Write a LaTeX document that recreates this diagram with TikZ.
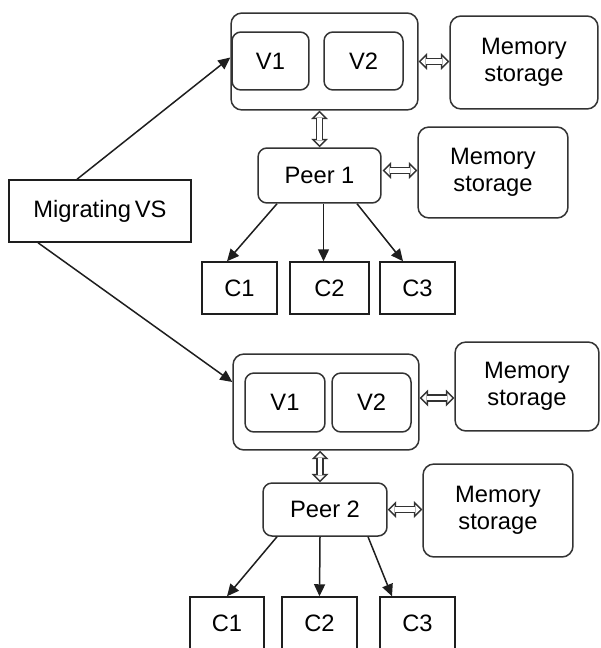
\documentclass[tikz,border=0pt]{standalone}
\usepackage{fontspec}
\setmainfont{Liberation Sans}
\usetikzlibrary{arrows.meta,calc}
\definecolor{edge}{HTML}{1E1E1E}
\definecolor{boxline}{HTML}{333333}

\begin{document}
\begin{tikzpicture}[x=0.02cm,y=-0.02cm,font=\fontsize{13.5}{15.5}\selectfont,
    plain/.style={draw=edge,line width=0.03cm,inner sep=0pt,align=center},
    rbox/.style={plain,draw=boxline,rounded corners=0.22cm},
    vbox/.style={plain,draw=boxline,rounded corners=0.18cm},
    flow/.style={draw=edge,line width=0.03cm,-{Triangle[length=0.24cm,width=0.22cm]}},
    dbl/.style={draw=boxline,line width=0.15cm,
      {Triangle[length=0.17cm,width=0.34cm,line width=0pt]}-{Triangle[length=0.17cm,width=0.34cm,line width=0pt]},
      postaction={draw=white,line width=0.09cm,shorten <=0.045cm,shorten >=0.045cm,
      {Triangle[length=0.095cm,width=0.19cm,line width=0pt]}-{Triangle[length=0.095cm,width=0.19cm,line width=0pt]}}}]
        \useasboundingbox (0,0) rectangle (600,648);
        % migrating node
        \node[plain,minimum width=3.64cm,minimum height=1.24cm] (mvs) at (100,211) {Migrating\,VS};
        % upper peer
        \node[rbox,minimum width=3.74cm,minimum height=1.94cm] (vm1) at (324.5,61.5) {};
        \node[vbox,minimum width=1.54cm,minimum height=1.16cm] (v1a) at (270.5,61) {V1};
        \node[vbox,minimum width=1.58cm,minimum height=1.16cm] (v2a) at (363.5,61) {V2};
        \node[rbox,minimum width=2.96cm,minimum height=1.86cm] (mem1) at (524,62.5) {Memory\\storage};
        \node[vbox,minimum width=2.46cm,minimum height=1.10cm] (peer1) at (319.5,175.5) {Peer 1};
        \node[rbox,minimum width=3.00cm,minimum height=1.82cm] (mem2) at (493,172.5) {Memory\\storage};
        \node[plain,minimum width=1.50cm,minimum height=1.04cm] (c1a) at (239.5,288) {C1};
        \node[plain,minimum width=1.58cm,minimum height=1.04cm] (c2a) at (329.5,288) {C2};
        \node[plain,minimum width=1.50cm,minimum height=1.04cm] (c3a) at (417.5,288) {C3};
        % lower peer
        \node[rbox,minimum width=3.72cm,minimum height=1.92cm] (vm2) at (326,402) {};
        \node[vbox,minimum width=1.60cm,minimum height=1.18cm] (v1b) at (285,402.5) {V1};
        \node[vbox,minimum width=1.58cm,minimum height=1.18cm] (v2b) at (371.5,402.5) {V2};
        \node[rbox,minimum width=2.88cm,minimum height=1.78cm] (mem3) at (527,386.5) {Memory\\storage};
        \node[vbox,minimum width=2.48cm,minimum height=1.06cm] (peer2) at (325,509.5) {Peer 2};
        \node[rbox,minimum width=3.00cm,minimum height=1.86cm] (mem4) at (498,510.5) {Memory\\storage};
        \node[plain,minimum width=1.48cm,minimum height=1.04cm] (c1b) at (227,623) {C1};
        \node[plain,minimum width=1.50cm,minimum height=1.04cm] (c2b) at (319.5,623) {C2};
        \node[plain,minimum width=1.50cm,minimum height=1.04cm] (c3b) at (417.5,623) {C3};
        % migration arrows
        \draw[flow] ($(mvs.north)+(-23,0)$) -- ($(vm1.west)+(0,-4)$);
        \draw[flow] ($(mvs.south)+(-62,0)$) -- ($(vm2.west)+(0,-20)$);
        % storage links
        \draw[dbl] (vm1.east) -- (vm1.east -| mem1.west);
        \draw[dbl] (peer1.north) -- (peer1.north |- vm1.south);
        \draw[dbl] ($(peer1.east)+(1,-5)$) -- ($(peer1.east -| mem2.west)+(0,-5)$);
        \draw[dbl] ($(vm2.east)+(0,-4)$) -- ($(vm2.east -| mem3.west)+(0,-4)$);
        \draw[dbl] ($(peer2.north)+(-5,0)$) -- ($(peer2.north |- vm2.south)+(-5,0)$);
        \draw[dbl] (peer2.east) -- (peer2.east -| mem4.west);
        % clients
        \draw[flow] ($(peer1.south)+(-42.5,0)$) -- ($(c1a.north)+(-12.5,0)$);
        \draw[flow] ($(peer1.south)+(4,0)$) -- ($(c2a.north)+(-6,0)$);
        \draw[flow] ($(peer1.south)+(37.5,0)$) -- ($(c3a.north)+(-14.5,0)$);
        \draw[flow] ($(peer2.south)+(-48,0)$) -- (c1b.north);
        \draw[flow] ($(peer2.south)+(-5,0)$) -- (c2b.north);
        \draw[flow] ($(peer2.south)+(43,0)$) -- ($(c3b.north)+(-25.5,0)$);
      \end{tikzpicture}
\end{document}
